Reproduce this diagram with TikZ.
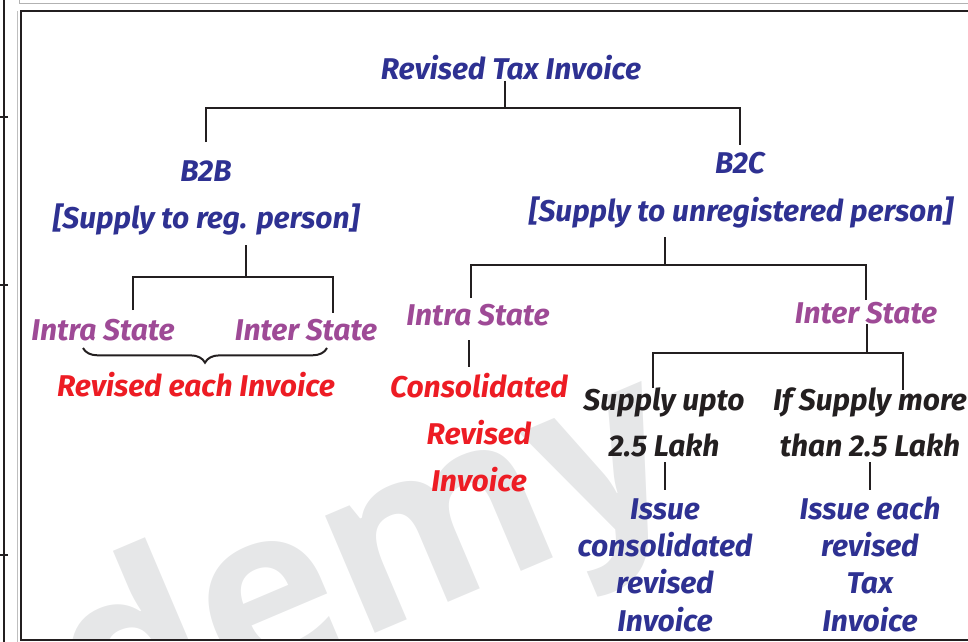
\documentclass[tikz,border=0pt]{standalone}
\usepackage{fontspec}
\setmainfont{Fira Sans}
\newfontfamily\wmfont{Open Sans}
\usepackage{xcolor}
\usepackage{tikz}
\usetikzlibrary{calc,decorations.pathreplacing}

\definecolor{inkblue}{RGB}{46,49,146}
\definecolor{inkpurple}{RGB}{158,74,150}
\definecolor{inkred}{RGB}{237,28,36}
\definecolor{inkblack}{RGB}{35,31,32}
\definecolor{wmgray}{RGB}{230,231,232}

\begin{document}
\begin{tikzpicture}[x=0.75pt, y=-0.75pt,
  lbl/.style={anchor=base, inner sep=0pt, align=center, font=\fontsize{22.5}{35}\selectfont\bfseries\itshape},
  blue lbl/.style={lbl, text=inkblue},
  purple lbl/.style={lbl, text=inkpurple},
  red lbl/.style={lbl, text=inkred},
  black lbl/.style={lbl, text=inkblack},
  link/.style={draw=inkblack, line width=1.6pt},
  bracket/.style={draw=inkblack, line width=1.5pt, decorate, decoration={brace, mirror, amplitude=11pt}}]

\useasboundingbox (0,0) rectangle (968,642);

% Watermark (clipped to the frame)
\begin{scope}
  \clip (21,11) rectangle (968,640);
  \node[anchor=base west, rotate=23, inner sep=0pt, text=wmgray, font=\wmfont\bfseries\fontsize{175}{180}\selectfont] (wm) at (95,752) {demy};
\end{scope}

% Page edges
\draw[inkblack, line width=0.8pt] (4,0) -- (4,642);
\draw[inkblack, line width=0.8pt] (0,117) -- (8,117) (0,285) -- (8,285) (0,555) -- (8,555);
\draw[gray!60, line width=0.6pt] (19,0) |- (968,3);
\draw[gray!50, line width=0.6pt] (17.5,11) -- (17.5,642);
\draw[inkblack, line width=2.2pt] (970,11) -| (21,640) -- (970,640);

% Root
\node[blue lbl] (root) at (511,80) {Revised Tax Invoice};

% B2B branch
\node[blue lbl] (b2b) at (206,181) {B2B};
\node[blue lbl] (b2bsub) at (206,228) {[Supply to reg. person]};
\node[purple lbl] (intraL) at (103,340) {Intra State};
\node[purple lbl] (interL) at (306,340) {Inter State};
\node[red lbl] (revL) at (196,396) {Revised each Invoice};

% B2C branch
\node[blue lbl] (b2c) at (740,173) {B2C};
\node[blue lbl] (b2csub) at (741,221) {[Supply to unregistered person]};
\node[purple lbl] (intraR) at (478,325) {Intra State};
\node[purple lbl] (interR) at (866,323) {Inter State};
\node[red lbl] (consol) at (479,491) {Consolidated\\Revised\\Invoice};

% Inter state split
\node[black lbl, font=\fontsize{22.5}{34.5}\selectfont\bfseries\itshape] (upto) at (664,456) {Supply upto\\2.5 Lakh};
\node[black lbl, font=\fontsize{22.5}{34.5}\selectfont\bfseries\itshape] (more) at (870,456) {If Supply more\\than 2.5 Lakh};
\node[blue lbl, font=\fontsize{22.5}{28}\selectfont\bfseries\itshape] (issueL) at (665,631) {Issue\\consolidated\\revised\\Invoice};
\node[blue lbl, font=\fontsize{22.5}{28}\selectfont\bfseries\itshape] (issueR) at (870,631) {Issue each\\revised\\Tax\\Invoice};

% Connectors
\draw[link] ($(root.base)+(-6,1)$) -- ++(0,27);
\draw[link] ($(b2b.base)+(0,-39)$) |- ($(root.base)+(-6,28)$) -| ($(b2c.base)+(0,-28)$);

\draw[link] ($(b2bsub.base)+(40,17)$) -- ++(0,32);
\draw[link] ($(intraL.base)+(30,-30)$) |- ($(b2bsub.base)+(40,49)$) -| ($(interL.base)+(27,-27)$);
\draw[bracket] ($(intraL.base)+(-20,8)$) -- ($(interL.base)+(21,8)$);

\draw[link] ($(b2csub.base)+(-76,16)$) -- ++(0,28);
\draw[link] ($(intraR.base)+(-7,-27)$) |- ($(b2csub.base)+(-76,44)$) -| ($(interR.base)+(0,-23)$);
\draw[link] ($(intraR.base)+(-9,15)$) -- ($(consol.base)+(-10,-124)$);

\draw[link] ($(interR.base)+(1,1)$) -- ++(0,29);
\draw[link] ($(upto.base)+(-11,-68)$) |- ($(interR.base)+(1,30)$) -| ($(more.base)+(33,-66)$);
\draw[link] ($(upto.base)+(1,6)$) -- ($(issueL.base)+(0,-141)$);
\draw[link] ($(more.base)+(0,6)$) -- ($(issueR.base)+(0,-141)$);

\end{tikzpicture}
\end{document}
